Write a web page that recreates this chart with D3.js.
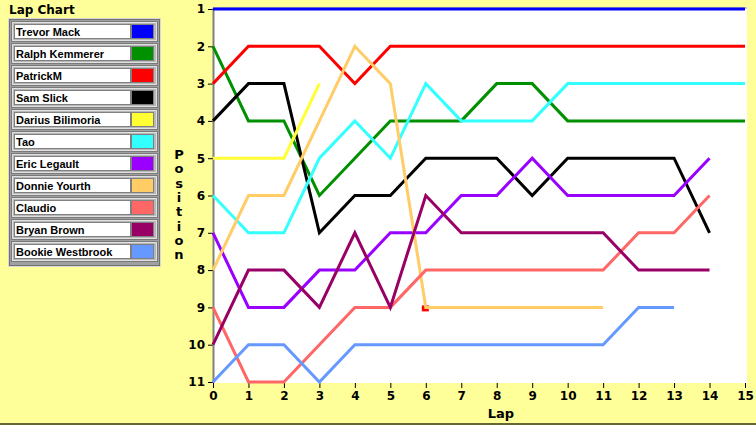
<!DOCTYPE html>
<html><head><meta charset="utf-8">
<script src="https://cdn.jsdelivr.net/npm/d3@7"></script>
<style>
html,body{margin:0;padding:0;background:#ffff99;}
svg{display:block;font-family:"DejaVu Sans",sans-serif;}
</style></head>
<body>
<svg id="c" width="756" height="425"></svg>
<script>
const drivers = ["Trevor Mack","Ralph Kemmerer","PatrickM","Sam Slick","Darius Bilimoria","Tao","Eric Legault","Donnie Yourth","Claudio","Bryan Brown","Bookie Westbrook"];
const colors = ["#0000ff","#009000","#ff0000","#000000","#ffff33","#33ffff","#9900ff","#ffcc66","#ff6666","#990066","#6699ff"];
// positions by lap (lap 0 first)
const trevorMack      = [1,1,1,1,1,1,1,1,1,1,1,1,1,1,1,1];
const ralphKemmerer   = [2,4,4,6,5,4,4,4,3,3,4,4,4,4,4,4];
const patrickM        = [3,2,2,2,3,2,2,2,2,2,2,2,2,2,2,2];
const samSlick        = [4,3,3,7,6,6,5,5,5,6,5,5,5,5,7];
const dariusBilimoria = [5,5,5,3];
const tao             = [6,7,7,5,4,5,3,4,4,4,3,3,3,3,3,3];
const ericLegault     = [7,9,9,8,8,7,7,6,6,5,6,6,6,6,5];
const donnieYourth    = [8,6,6,4,2,3,9,9,9,9,9,9];
const claudio         = [9,11,11,10,9,9,8,8,8,8,8,8,7,7,6];
const bryanBrown      = [10,8,8,9,7,9,6,7,7,7,7,7,8,8,8];
const bookieWestbrook = [11,10,10,11,10,10,10,10,10,10,10,10,9,9];
const series = [trevorMack,ralphKemmerer,patrickM,samSlick,dariusBilimoria,tao,ericLegault,donnieYourth,claudio,bryanBrown,bookieWestbrook];
const lapTicks = [0,1,2,3,4,5,6,7,8,9,10,11,12,13,14,15];
const posTicks = [1,2,3,4,5,6,7,8,9,10,11];
const markers = [{lap:6,pos:9,color:"#ff0000"}];
const yLabel = "Position";

const svg = d3.select("#c");
const x = d3.scaleLinear().domain([0,15]).range([213,745]);
const y = d3.scaleLinear().domain([1,11]).range([9,382]);

// bottom frame line
svg.append("rect").attr("x",0).attr("y",423).attr("width",756).attr("height",2).attr("fill","#666633");

// plot area
svg.append("rect").attr("x",213).attr("y",8).attr("width",534).attr("height",375).attr("fill","#ffffff");
svg.append("line").attr("x1",213).attr("x2",747).attr("y1",8).attr("y2",8).attr("stroke","#9999aa").attr("stroke-width",1);

// axes
const yAxis = d3.axisLeft(y).tickValues(posTicks).tickFormat(d3.format("d")).tickSize(5).tickPadding(3);
const gy = svg.append("g").attr("transform","translate(213,0)").call(yAxis);
gy.select(".domain").remove();
gy.selectAll("line").attr("stroke","#000");
gy.selectAll("text").style("font-size","12px").style("font-weight","bold").attr("fill","#000").style("font-family","'DejaVu Sans'");
svg.append("line").attr("x1",213.5).attr("x2",213.5).attr("y1",8).attr("y2",383).attr("stroke","#808080").attr("stroke-width",2);

const xAxis = d3.axisBottom(x).tickValues(lapTicks).tickFormat(d3.format("d")).tickSize(5).tickPadding(3);
const gx = svg.append("g").attr("transform","translate(0,383)").call(xAxis);
gx.select(".domain").remove();
gx.selectAll("line").attr("stroke","#000");
gx.selectAll("text").style("font-size","12px").style("font-weight","bold").attr("fill","#000").style("font-family","'DejaVu Sans'");

svg.append("text").attr("x",501).attr("y",418).attr("text-anchor","middle")
  .style("font-size","13px").style("font-weight","bold").text("Lap");

// vertical stacked y label
const ly = svg.append("text").attr("text-anchor","middle").style("font-size","13px").style("font-weight","bold");
yLabel.split("").forEach((ch,i)=>{
  ly.append("tspan").attr("x",179).attr("y",159+i*14.3).text(ch);
});

// markers (drawn under lines)
markers.forEach(m=>{
  svg.append("rect").attr("x",x(m.lap)-4).attr("y",y(m.pos)-2).attr("width",7).attr("height",6)
    .attr("fill",m.color);
});

// lines
const line = d3.line().x((d,i)=>x(i)).y(d=>y(d));
const lg = svg.append("g");
series.forEach((s,i)=>{
  lg.append("path").datum(s).attr("d",line).attr("fill","none")
    .attr("stroke",colors[i]).attr("stroke-width",3).attr("stroke-linejoin","miter");
});

// title
svg.append("text").attr("x",9).attr("y",14).style("font-size","12px").style("font-weight","bold").text("Lap Chart");

// legend
const leg = svg.append("g");
leg.append("rect").attr("x",8.5).attr("y",18.5).attr("width",152).attr("height",248).attr("fill","#a0a0a0").attr("stroke","#d8d8d8");
leg.append("rect").attr("x",9.5).attr("y",19.5).attr("width",150).attr("height",246).attr("fill","none").attr("stroke","#707070");
drivers.forEach((name,i)=>{
  const y0 = 20 + i*22;
  leg.append("rect").attr("x",11.5).attr("y",y0+1.5).attr("width",146).attr("height",20).attr("fill","#b8b8b8").attr("stroke","#7a7a7a");
  leg.append("rect").attr("x",12.5).attr("y",y0+2.5).attr("width",144).attr("height",18).attr("fill","none").attr("stroke","#e0e0e0");
  leg.append("rect").attr("x",14.5).attr("y",y0+4.5).attr("width",116).attr("height",14).attr("fill","#ffffff").attr("stroke","#808080");
  leg.append("rect").attr("x",131.5).attr("y",y0+4.5).attr("width",22).attr("height",14).attr("fill",colors[i]).attr("stroke","#808080");
  leg.append("text").attr("x",16).attr("y",y0+16).style("font-size","11px").style("font-weight","bold")
    .style("font-family","'Liberation Sans',Arial,sans-serif").text(name);
});
</script>
</body></html>
